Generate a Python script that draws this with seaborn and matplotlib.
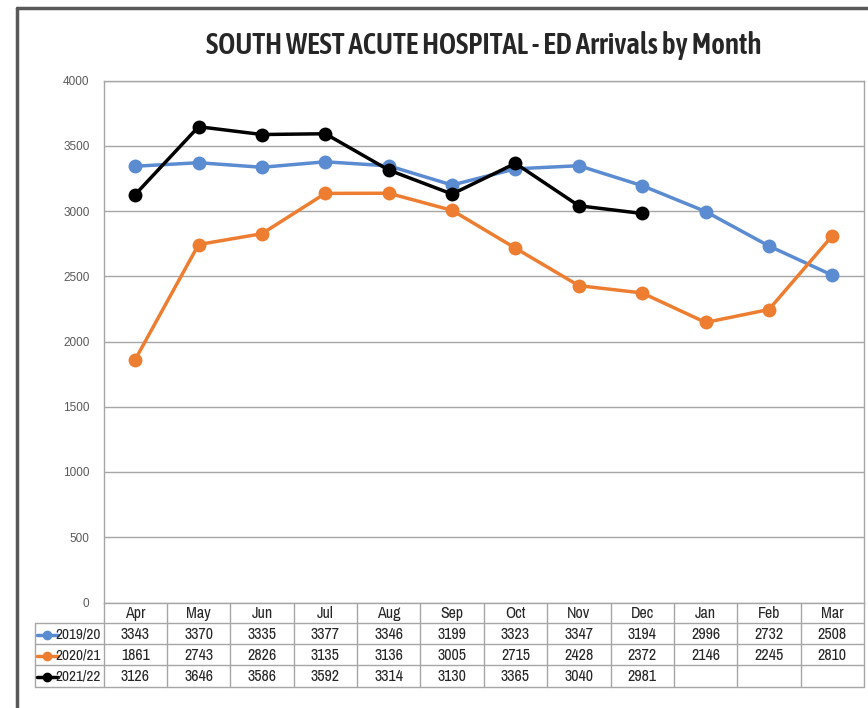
import numpy as np
import pandas as pd
import matplotlib
matplotlib.use('Agg')
import matplotlib.pyplot as plt
import seaborn as sns
from matplotlib import font_manager
from matplotlib.lines import Line2D

months = ['Apr', 'May', 'Jun', 'Jul', 'Aug', 'Sep', 'Oct', 'Nov', 'Dec', 'Jan', 'Feb', 'Mar']
years = ['2019/20', '2020/21', '2021/22']
arr_1920 = [3343, 3370, 3335, 3377, 3346, 3199, 3323, 3347, 3194, 2996, 2732, 2508]
arr_2021 = [1861, 2743, 2826, 3135, 3136, 3005, 2715, 2428, 2372, 2146, 2245, 2810]
arr_2122 = [3126, 3646, 3586, 3592, 3314, 3130, 3365, 3040, 2981, None, None, None]
colors = ['#5B8BD0', '#ED7D31', '#000000']

names = {f.name for f in font_manager.fontManager.ttflist}


def pick(cands):
    for c in cands:
        if c in names:
            return c
    return 'DejaVu Sans'


narrow = pick(['Liberation Sans Narrow', 'Arial Narrow', 'Archivo Narrow', 'Liberation Sans'])
title_font = pick(['Asap Condensed', 'Carlito', 'Lato'])

sns.set_style('white')
plt.rcParams['font.family'] = ['Liberation Sans', 'DejaVu Sans']

W, H = 868, 708
fig = plt.figure(figsize=(W / 100, H / 100), dpi=100)

# plot area in pixel units
L, R, T, B = 103.5, 864, 80.5, 602.5
ax = fig.add_axes([L / W, 1 - B / H, (R - L) / W, (B - T) / H])

df = pd.DataFrame({
    'month': list(range(12)) * 3,
    'arrivals': arr_1920 + arr_2021 + arr_2122,
    'year': np.repeat(years, 12),
})
df = df.dropna()
sns.lineplot(data=df, x='month', y='arrivals', hue='year', hue_order=years,
             palette=colors, marker='o', markersize=10, markeredgewidth=0,
             linewidth=2.5, legend=False, sort=False, ax=ax)

ax.set_xlim(-0.5, 11.5)
ax.set_ylim(0, 4000)
ax.set_yticks(range(0, 4001, 500))
ax.set_xticks([])
ax.set_xlabel('')
ax.set_ylabel('')
ax.yaxis.grid(True, color='#A6A6A6', linewidth=1)
ax.set_axisbelow(True)
ax.tick_params(axis='y', length=0, pad=10, labelsize=8.5, labelcolor='#595959')
for s in ax.spines.values():
    s.set_color('#A6A6A6')
    s.set_linewidth(1)

# data table underneath
tax = fig.add_axes([0, 0, 1, 1])
tax.set_xlim(0, W)
tax.set_ylim(H, 0)
tax.axis('off')

w = (R - L) / 12
row_y = [602.5, 623, 644, 665, 686.5]
gc = '#A6A6A6'
for y in row_y[1:]:
    tax.plot([35, R], [y, y], color=gc, lw=1)
tax.plot([35, 35], [row_y[1], row_y[-1]], color=gc, lw=1)
for i in range(13):
    x = L + i * w
    tax.plot([x, x], [row_y[0], row_y[-1]], color=gc, lw=1)

fs = 11.5
for i, m in enumerate(months):
    tax.text(L + (i + 0.5) * w, (row_y[0] + row_y[1]) / 2 + 1, m, ha='center', va='center',
             fontsize=fs, family=narrow)

series = [arr_1920, arr_2021, arr_2122]
for r, (yr, vals, c) in enumerate(zip(years, series, colors)):
    yc = (row_y[r + 1] + row_y[r + 2]) / 2 + 1
    tax.plot([37, 58], [yc, yc], color=c, lw=2.5)
    tax.plot([47], [yc], marker='o', color=c, markersize=7, markeredgewidth=0)
    tax.text(101, yc, yr, ha='right', va='center', fontsize=11, family=narrow)
    for i, v in enumerate(vals):
        if v is not None:
            tax.text(L + (i + 0.5) * w, yc, str(int(v)), ha='center', va='center',
                     fontsize=fs, family=narrow)

fig.text(484 / W, 1 - 46 / H, 'SOUTH WEST ACUTE HOSPITAL - ED Arrivals by Month',
         ha='center', va='center', fontsize=21, fontweight=600, family=[title_font, 'DejaVu Sans'])

# outer frame (top and left edges)
fig.add_artist(Line2D([17 / W, 17 / W], [0, 1 - 8 / H], color='#595959', lw=2.5, transform=fig.transFigure))
fig.add_artist(Line2D([17 / W, 1], [1 - 8 / H, 1 - 8 / H], color='#595959', lw=2.5, transform=fig.transFigure))

fig.savefig('out.png', dpi=100)
